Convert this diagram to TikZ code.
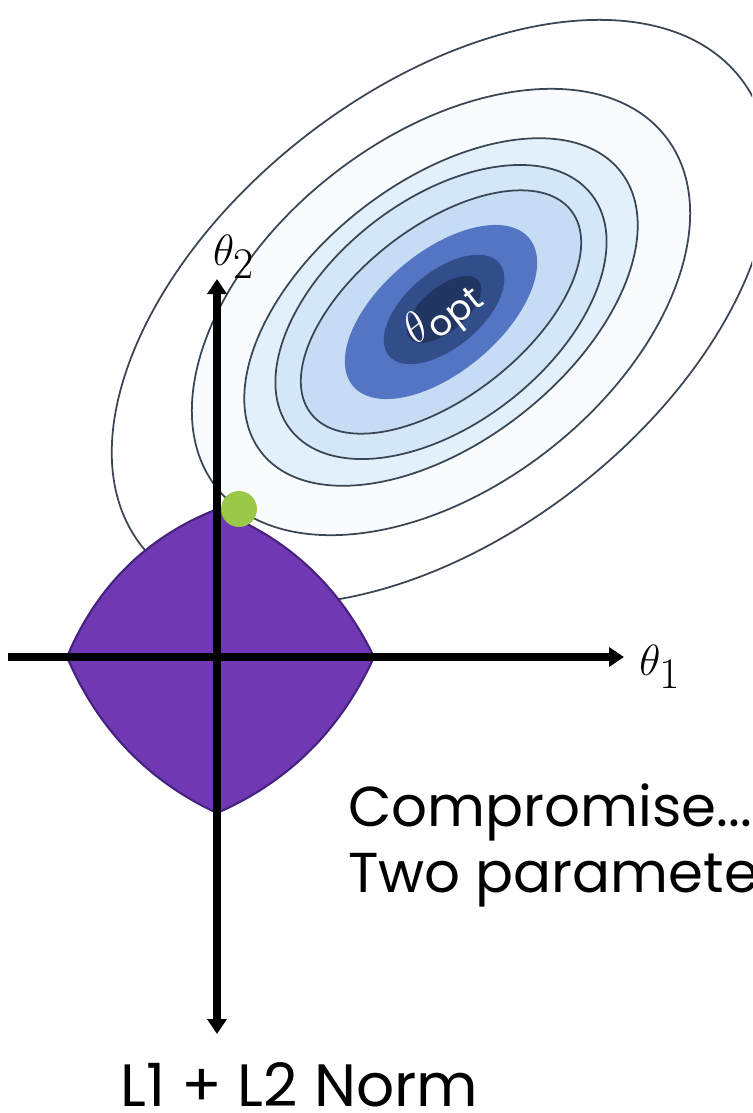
\documentclass[tikz,border=0pt]{standalone}
\usepackage{fontspec}
\setmainfont{Poppins}
\usetikzlibrary{arrows.meta, positioning}

\definecolor{lineblue}{RGB}{58,70,84}
\definecolor{ringA}{RGB}{249,252,255}
\definecolor{ringB}{RGB}{226,240,251}
\definecolor{ringC}{RGB}{212,231,248}
\definecolor{ringD}{RGB}{198,220,244}
\definecolor{midblue}{RGB}{84,117,196}
\definecolor{coreblue}{RGB}{50,78,138}
\definecolor{deepblue}{RGB}{34,54,100}
\definecolor{normpurple}{RGB}{112,56,178}
\definecolor{normedge}{RGB}{70,34,128}
\definecolor{hitgreen}{RGB}{155,200,72}

\tikzset{axtip/.tip={Triangle[length=0.3cm, width=0.38cm]}}

\begin{document}
\begin{tikzpicture}[
  x=0.02cm, y=-0.02cm,
  contour/.style={draw=lineblue, line width=1pt},
  axis/.style={line width=4pt, draw=black},
  axislabel/.style={font=\fontsize{33}{40}\selectfont, inner sep=0pt},
  caption/.style={font=\fontsize{32}{40}\selectfont, anchor=base west, inner sep=0pt},
  hit/.style={circle, fill=hitgreen, minimum size=0.72cm, inner sep=0pt}
]
\useasboundingbox (0,0) rectangle (752,1113);
\clip (0,0) rectangle (752,1113);

\coordinate (opt) at (441,312);

\begin{scope}[shift={(opt)}, rotate=38]
  \draw[contour] (0,0) ellipse [x radius=380, y radius=222];
  \draw[contour, fill=ringA] (0,0) ellipse [x radius=285, y radius=175];
  \draw[contour, fill=ringB] (0,0) ellipse [x radius=228, y radius=130];
  \draw[contour, fill=ringC] (0,0) ellipse [x radius=191, y radius=112];
  \draw[contour, fill=ringD] (0,0) ellipse [x radius=165, y radius=85];
\end{scope}
\begin{scope}[shift={(opt)}, rotate=40]
  \fill[midblue] (0,0) ellipse [x radius=115, y radius=60];
  \fill[coreblue] (4,0) ellipse [x radius=72, y radius=38];
  \fill[deepblue] (4,0) ellipse [x radius=45, y radius=22];
\end{scope}

\node[white, rotate=38, font=\fontsize{29}{34}\selectfont, inner sep=0pt] (toptlabel) at (445,316) {$\theta_{\mathrm{opt}}$};

\coordinate (west) at (67,657);
\coordinate (north) at (215,510);
\coordinate (east) at (374,657);
\coordinate (south) at (217,813);

\filldraw[fill=normpurple, draw=normedge, line width=1.2pt]
  (west) .. controls (96,588) and (145,538) .. (north)
  .. controls (288,537) and (340,587) .. (east)
  .. controls (341,729) and (290,781) .. (south)
  .. controls (148,781) and (98,729) .. (west) -- cycle;

\coordinate (xfrom) at (8,657);
\coordinate (xto) at (624,657);
\coordinate (yfrom) at (217,1034);
\coordinate (yto) at (217,279);

\draw[axis, -axtip] (xfrom) -- (xto);
\draw[axis, axtip-axtip] (yfrom) -- (yto);

\node[hit] (meet) at (239,509) {};

\node[axislabel, right=0.3cm of xto, yshift=-0.2cm] (theta1) {$\theta_1$};
\node[axislabel, above=0cm of yto, xshift=0.33cm] (theta2) {$\theta_2$};

\node[caption] (compromise) at (348,826) {Compromise...};
\node[caption] (twoparams) at ([yshift=-1.34cm]compromise.base west) {Two paramete};
\node[caption, font=\fontsize{34}{40}\selectfont] (normname) at (120,1106) {L1 + L2 Norm};

\end{tikzpicture}
\end{document}
